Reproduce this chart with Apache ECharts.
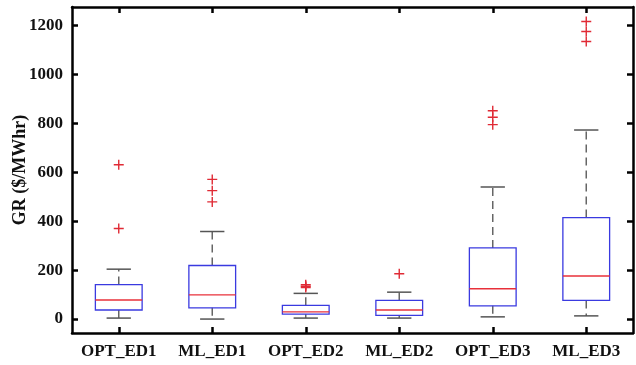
<!DOCTYPE html>
<html>
<head>
<meta charset="utf-8">
<script src="https://cdn.jsdelivr.net/npm/echarts@6/dist/echarts.min.js"></script>
<style>
  html, body { margin: 0; padding: 0; background: #fff; }
  #main { width: 636px; height: 365px; }
</style>
</head>
<body>
<div id="main"></div>
<script>
// box statistics
const categories = ['OPT_ED1', 'ML_ED1', 'OPT_ED2', 'ML_ED2', 'OPT_ED3', 'ML_ED3'];
const lowerWhisker = [4, 0, 4, 4, 9, 13];
const q1 = [37, 46, 20, 15, 54, 76];
const median = [78, 99, 29, 37, 124, 176];
const q3 = [141, 219, 56, 76, 291, 415];
const upperWhisker = [204, 358, 105, 110, 540, 773];
// [category index, value]
const outliers = [
  [0, 631], [0, 370],
  [1, 571], [1, 525], [1, 479],
  [2, 140], [2, 134], [2, 129],
  [3, 185],
  [4, 852], [4, 825], [4, 795],
  [5, 1217], [5, 1176], [5, 1135]
];
const yTicks = [0, 200, 400, 600, 800, 1000, 1200];

const boxData = categories.map((c, i) => [i, lowerWhisker[i], q1[i], median[i], q3[i], upperWhisker[i]]);

const fontFamily = '"Liberation Serif", "Times New Roman", serif';

function renderBox(params, api) {
  const i = api.value(0);
  const band = api.size([1, 0])[0];
  const half = band * 0.25;
  const cap = band * 0.13;
  const pLow = api.coord([i, api.value(1)]);
  const pQ1 = api.coord([i, api.value(2)]);
  const pMed = api.coord([i, api.value(3)]);
  const pQ3 = api.coord([i, api.value(4)]);
  const pHigh = api.coord([i, api.value(5)]);
  const x = pMed[0];
  const whisker = { stroke: '#666', lineWidth: 1.5, lineDash: [8, 5] };
  const capStyle = { stroke: '#555', lineWidth: 1.5 };
  return {
    type: 'group',
    children: [
      { type: 'line', shape: { x1: x, y1: pQ3[1], x2: x, y2: pHigh[1] }, style: whisker },
      { type: 'line', shape: { x1: x, y1: pQ1[1], x2: x, y2: pLow[1] }, style: whisker },
      { type: 'line', shape: { x1: x - cap, y1: pHigh[1], x2: x + cap, y2: pHigh[1] }, style: capStyle },
      { type: 'line', shape: { x1: x - cap, y1: pLow[1], x2: x + cap, y2: pLow[1] }, style: capStyle },
      { type: 'rect', shape: { x: x - half, y: pQ3[1], width: half * 2, height: pQ1[1] - pQ3[1] },
        style: { fill: 'none', stroke: '#3a3ae0', lineWidth: 1.3 } },
      { type: 'line', shape: { x1: x - half, y1: pMed[1], x2: x + half, y2: pMed[1] },
        style: { stroke: '#e8303a', lineWidth: 1.3 } }
    ]
  };
}

const chart = echarts.init(document.getElementById('main'));

const axisLine = { show: true, onZero: false, lineStyle: { color: '#000', width: 2.5 } };
const tickStyle = { color: '#000', width: 2.5 };

chart.setOption({
  animation: false,
  backgroundColor: '#fff',
  grid: { left: 72, right: 3, top: 7, bottom: 32, outerBoundsMode: 'none', containLabel: false },
  xAxis: [
    {
      type: 'category',
      data: categories,
      position: 'bottom',
      axisLine: axisLine,
      axisTick: { show: true, inside: true, alignWithLabel: true, length: 6, lineStyle: tickStyle },
      axisLabel: { interval: 0, color: '#111', fontFamily: fontFamily, fontWeight: 'bold', fontSize: 17, margin: 10 },
      splitLine: { show: false }
    },
    {
      type: 'category',
      data: categories,
      position: 'top',
      axisLine: axisLine,
      axisTick: { show: true, inside: true, alignWithLabel: true, length: 6, lineStyle: tickStyle },
      axisLabel: { show: false },
      splitLine: { show: false }
    }
  ],
  yAxis: [
    {
      type: 'value',
      min: -57,
      max: 1276,
      position: 'left',
      name: 'GR ($/MWhr)',
      nameLocation: 'middle',
      nameGap: 43,
      nameMoveOverlap: false,
      nameTextStyle: { color: '#111', fontFamily: fontFamily, fontWeight: 'bold', fontSize: 18 },
      axisLine: axisLine,
      axisTick: { show: true, inside: true, length: 6, customValues: yTicks, lineStyle: tickStyle },
      axisLabel: {
        color: '#111', fontFamily: fontFamily, fontWeight: 'bold', fontSize: 17, margin: 9,
        customValues: yTicks, formatter: v => String(v)
      },
      splitLine: { show: false }
    },
    {
      type: 'value',
      min: -57,
      max: 1276,
      position: 'right',
      axisLine: axisLine,
      axisTick: { show: true, inside: true, length: 6, customValues: yTicks, lineStyle: tickStyle },
      axisLabel: { show: false },
      splitLine: { show: false }
    }
  ],
  series: [
    {
      type: 'custom',
      renderItem: renderBox,
      data: boxData,
      encode: { x: 0, y: [1, 2, 3, 4, 5] },
      z: 2
    },
    {
      type: 'scatter',
      data: outliers,
      symbol: 'path://M4.3,0h1.4v4.3h4.3v1.4h-4.3v4.3h-1.4v-4.3h-4.3v-1.4h4.3z',
      symbolSize: 10,
      itemStyle: { color: '#e02a35', opacity: 1 },
      z: 3
    }
  ]
});
</script>
</body>
</html>
